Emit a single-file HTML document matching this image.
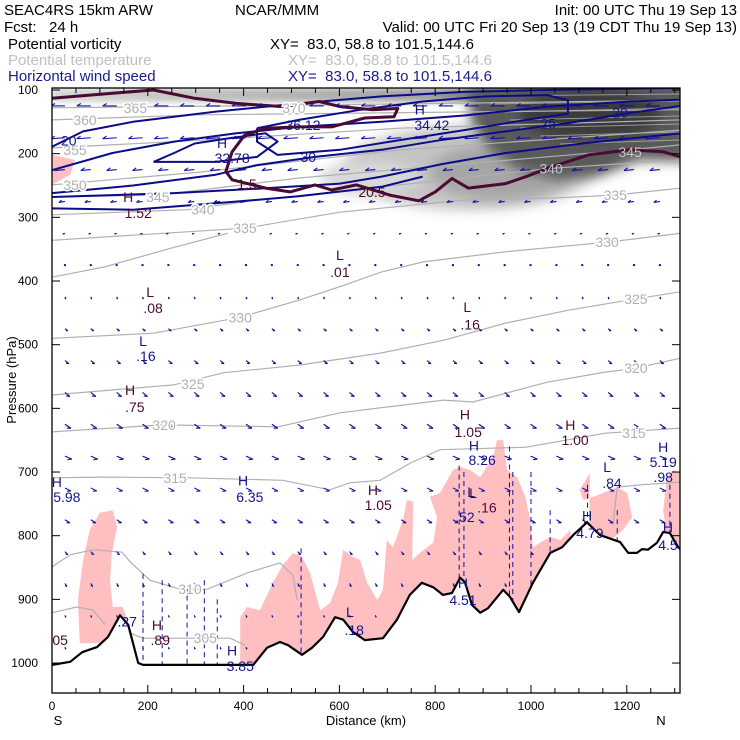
<!DOCTYPE html>
<html><head><meta charset="utf-8">
<style>
html,body{margin:0;padding:0;background:#fff;}
body{width:740px;height:740px;overflow:hidden;font-family:"Liberation Sans",sans-serif;}
svg{display:block;}
</style></head>
<body>
<svg id="chart" width="740" height="740" viewBox="0 0 740 740" xmlns="http://www.w3.org/2000/svg" font-family="Liberation Sans, sans-serif">
<defs>
<clipPath id="plotclip"><rect x="52" y="88" width="628" height="605"/></clipPath>
<filter id="blur6" x="-50%" y="-50%" width="200%" height="200%"><feGaussianBlur stdDeviation="6"/></filter>
<filter id="blur3" x="-50%" y="-50%" width="200%" height="200%"><feGaussianBlur stdDeviation="3"/></filter>
<linearGradient id="topband" x1="0" x2="1" y1="0" y2="0">
<stop offset="0" stop-color="#d8d8d8"/><stop offset="0.6" stop-color="#a0a0a0"/><stop offset="0.75" stop-color="#505050"/><stop offset="1" stop-color="#454545"/>
</linearGradient>
</defs>
<g font-size="15" fill="#000">
<text x="4" y="15">SEAC4RS 15km ARW</text>
<text x="235" y="15">NCAR/MMM</text>
<text x="737" y="15" text-anchor="end">Init: 00 UTC Thu 19 Sep 13</text>
<text x="4" y="32" xml:space="preserve">Fcst:   24 h</text>
<text x="737" y="32" text-anchor="end">Valid: 00 UTC Fri 20 Sep 13 (19 CDT Thu 19 Sep 13)</text>
<text x="8" y="49">Potential vorticity</text>
<text x="270" y="49" xml:space="preserve">XY=  83.0, 58.8 to 101.5,144.6</text>
<text x="8" y="65" fill="#c0c0c0">Potential temperature</text>
<text x="288" y="65" fill="#c0c0c0" xml:space="preserve">XY=  83.0, 58.8 to 101.5,144.6</text>
<text x="8" y="81" fill="#1a1a90">Horizontal wind speed</text>
<text x="288" y="81" fill="#1a1a90" xml:space="preserve">XY=  83.0, 58.8 to 101.5,144.6</text>
</g>
<g id="plot" clip-path="url(#plotclip)">
<g>
<rect x="52" y="88" width="628" height="14" fill="url(#topband)" filter="url(#blur3)"/>
<ellipse cx="470" cy="168" rx="125" ry="42" fill="#c4c4c4" filter="url(#blur6)"/>
<ellipse cx="500" cy="172" rx="70" ry="28" fill="#a6a6a6" filter="url(#blur6)"/>
<ellipse cx="370" cy="178" rx="50" ry="18" fill="#d8d8d8" filter="url(#blur6)"/>
<path d="M470 88 L690 88 L690 162 L640 160 L600 176 L560 180 L520 170 L490 150 L470 120 Z" fill="#5a5a5a" filter="url(#blur6)"/>
<ellipse cx="590" cy="115" rx="70" ry="25" fill="#3a3a3a" filter="url(#blur6)"/>
<g stroke="#d0d0d0" stroke-width="1" opacity="0.6">
<line x1="480" y1="96" x2="680" y2="94"/><line x1="490" y1="104" x2="680" y2="101"/><line x1="500" y1="112" x2="680" y2="108"/><line x1="510" y1="120" x2="680" y2="116"/><line x1="520" y1="128" x2="680" y2="124"/><line x1="540" y1="136" x2="680" y2="132"/><line x1="560" y1="144" x2="680" y2="140"/>
</g>
</g>
<g id="pink"></g>
<g id="theta"></g>
<g id="wind"></g>
<g id="pv"></g>
<g id="arrows"></g>
<g id="terrain"></g>
<g id="labels"></g>
</g>
<rect x="52" y="88" width="628" height="605" fill="none" stroke="#000" stroke-width="1.3"/>
<g id="axes" font-size="12" fill="#000"></g>
<text transform="translate(16,380) rotate(-90)" text-anchor="middle" font-size="13">Pressure (hPa)</text>
<text x="366" y="725" text-anchor="middle" font-size="13">Distance (km)</text>
<text x="58" y="725" text-anchor="middle" font-size="13">S</text>
<text x="661" y="725" text-anchor="middle" font-size="13">N</text>
</svg>
<script>
// ---- data ----
const yTicks = [100,200,300,400,500,600,700,800,900,1000];
const xTicks = [0,200,400,600,800,1000,1200];
const terrainKm = [0,38,63,94,117,142,159,180,190,420,449,476,493,522,543,566,591,608,628,653,691,720,747,772,796,816,835,852,862,877,894,910,942,956,975,1004,1040,1065,1088,1117,1144,1186,1203,1221,1232,1244,1263,1276,1290,1307,1313];
const terrainP = [1003,998,983,975,959,925,940,1000,1003,1003,976,967,972,987,976,959,928,932,951,964,961,932,893,874,881,893,890,866,873,909,921,914,885,896,920,874,827,818,799,779,799,810,827,827,821,822,811,794,796,818,822];
const pinkAreas = [
 [[58,969],[54,901],[65,838],[79,791],[100,764],[127,760],[136,786],[125,827],[121,870],[127,912],[148,912],[157,932],[142,964],[106,969]],
 [[0,202],[48,210],[38,233],[0,249]],
 [[393,1040],[393,928],[407,912],[434,917],[461,874],[482,846],[503,827],[522,833],[539,859],[560,917],[580,906],[597,874],[608,822],[628,833],[643,838],[658,874],[679,901],[691,885],[699,807],[712,818],[733,775],[741,744],[754,747],[752,838],[768,827],[796,811],[804,771],[789,739],[810,733],[837,697],[852,692],[873,697],[894,708],[921,676],[929,650],[942,650],[950,697],[971,708],[988,739],[998,771],[1004,818],[1019,811],[1040,802],[1061,807],[1082,791],[1090,1040]],
 [[1123,702],[1102,728],[1109,744],[1130,739],[1150,733],[1180,724],[1201,733],[1211,771],[1192,791],[1171,804],[1144,838],[1120,838]],
 [[1276,760],[1284,708],[1297,697],[1313,702],[1313,838],[1290,838]]
];
const thetaLines = [
 [[0,128],[518,124],[1313,116]],
 [[0,147],[309,139],[1313,131]],
 [[0,191],[309,179],[727,160],[1313,147]],
 [[0,249],[309,229],[727,194],[1313,163]],
 [[0,268],[221,265],[518,238],[831,218],[1207,194],[1313,186]],
 [[0,296],[282,288],[428,273],[727,249],[1042,223],[1313,210]],
 [[0,336],[169,328],[403,317],[601,292],[860,273],[1036,270],[1176,265],[1313,254]],
 [[0,394],[109,378],[255,347],[367,325]],
 [[0,490],[213,482],[393,457],[516,430],[601,409],[687,386],[775,370],[948,354],[1159,339],[1313,325]],
 [[0,579],[255,563],[359,544],[516,532],[687,513],[818,493],[948,466],[1077,446],[1219,428],[1313,417]],
 [[0,637],[230,626],[472,629],[601,607],[818,587],[879,590],[1034,559],[1155,543],[1219,537],[1313,521]],
 [[0,709],[106,708],[288,709],[482,713],[580,728],[622,717],[685,713],[748,686],[810,665],[990,661],[1155,639],[1313,631]],
 [[0,849],[38,830],[86,822],[146,826],[163,841],[205,870],[267,884],[324,884],[413,857],[476,843],[503,862],[512,901]],
 [[1171,783],[1180,724],[1228,720],[1313,716]],
 [[0,921],[52,912],[86,917],[111,940]],
 [[163,953],[190,961],[372,961],[403,972]]
];
const windLines = [
 [[0,189],[65,165],[169,150],[342,134],[515,121],[688,110],[861,103],[1034,100],[1207,98],[1313,97]],
 [[0,226],[126,199],[255,181],[385,168],[515,158],[688,150],[861,140],[1034,126],[1207,118],[1313,115]],
 [[0,262],[169,250],[342,233],[428,218],[549,205],[688,194],[817,178],[947,165],[1077,152],[1207,136],[1313,125]],
 [[0,268],[255,262],[428,255],[601,247],[688,236],[817,216],[947,199],[1120,183],[1313,168]],
 [[0,286],[169,288],[342,278],[515,267],[688,252],[774,236]],
 [[212,213],[255,199],[298,184],[368,176],[446,168],[471,181],[428,205],[342,213],[212,213]],
 [[428,160],[515,147],[645,131],[774,118],[904,110],[1034,108],[1077,116],[1077,137],[990,147],[861,163],[731,178],[601,194],[471,202],[428,181],[428,160]]
];
const pvLine = [[0,113],[126,105],[212,100],[298,113],[385,121],[480,126],[558,118],[601,126],[670,131],[722,129],[714,142],[653,144],[584,158],[515,158],[446,160],[402,171],[376,197],[363,228],[376,241],[446,254],[497,260],[549,249],[584,257],[636,249],[705,265],[766,274],[800,260],[835,239],[869,254],[947,247],[990,236],[1034,223],[1120,202],[1207,194],[1276,197],[1313,205]];
const windRowP = [125,175,225,275,325,375,425,475,525,575,625,675,725,775,825,875,925,975];
const windRowU = [-14,-14,-10,-6,-2,-1,1,3,4,5,6,7,6,5,3,2,1,1];
const windRowW = [0,1,1,1,1,1,2,2,3,4,4,3,3,3,3,3,2,2];
const windColKm = [27,81,135,189,243,297,351,405,459,513,567,621,675,729,783,837,891,945,999,1053,1107,1161,1215,1269];
const vertLineKm = [190,230,282,318,345,520,850,860,955,962,1000,1040,1118,1180,1290];
const vertLineTop = [860,870,880,870,900,820,690,700,660,700,700,760,720,760,720];
const thetaLabels = [[174,128,"365"],[69,147,"360"],[505,128,"370"],[48,194,"355"],[48,249,"350"],[221,268,"345"],[315,288,"340"],[403,317,"335"],[1176,265,"335"],[393,457,"330"],[1159,339,"330"],[294,562,"325"],[1219,428,"325"],[234,626,"320"],[1219,537,"320"],[257,709,"315"],[1215,639,"315"],[288,884,"310"],[320,961,"305"]];
const thetaLabelsShaded = [[1207,197,"345"],[1042,223,"340"]];
const pvLabels = [[601,359,"L"],[601,386,".01"],[205,417,"L"],[211,442,".08"],[163,571,"H"],[173,598,".75"],[867,441,"L"],[873,468,".16"],[862,610,"H"],[869,637,"1.05"],[1082,626,"H"],[1092,650,"1.00"],[670,728,"H"],[681,752,"1.05"],[879,733,"L"],[908,756,".16"],[219,940,"H"],[226,964,".89"],[17,964,"05"],[407,248,"1.5"],[159,268,"H"],[180,293,"1.52"],[668,260,"20.5"]];
const windLabels = [[524,155,"36.12"],[355,183,"H"],[376,207,"32.78"],[768,131,"H"],[793,155,"34.42"],[535,205,"30"],[1036,153,"25"],[1186,135,"20"],[35,179,"20"],[190,494,"L"],[196,518,".16"],[10,716,"H"],[31,739,"5.98"],[399,713,"H"],[413,739,"6.35"],[881,658,"H"],[898,681,"8.26"],[1159,692,"L"],[1169,717,".84"],[1276,661,"H"],[1276,684,"5.19"],[1276,708,".98"],[858,874,"H"],[858,901,"4.51"],[1117,768,"H"],[1123,796,"4.79"],[1286,786,"H"],[1286,815,"4.5"],[622,920,"L"],[631,948,".18"],[376,980,"H"],[393,1005,"3.85"],[157,935,".27"],[875,731,"L"],[862,771,".52"]];

// ---- scales ----
const X = km => 52 + km * 0.479;
const Y = p => 90 + (p - 100) * 0.6367;
const NS = "http://www.w3.org/2000/svg";
function mk(tag, attrs, parent){const e=document.createElementNS(NS,tag);for(const k in attrs)e.setAttribute(k,attrs[k]);parent.appendChild(e);return e;}
const pts = arr => arr.map(d => X(d[0]).toFixed(1)+","+Y(d[1]).toFixed(1)).join(" ");
function terrainAt(km){for(let i=1;i<terrainKm.length;i++){if(km<=terrainKm[i]){const t=(km-terrainKm[i-1])/(terrainKm[i]-terrainKm[i-1]);return terrainP[i-1]+t*(terrainP[i]-terrainP[i-1]);}}return terrainP[terrainP.length-1];}

const gPink=document.getElementById('pink');
pinkAreas.forEach(a=>{const e=mk('polygon',{points:pts(a),fill:'#ffbfc0'},gPink);

});

const gTheta=document.getElementById('theta');
thetaLines.forEach(a=>{const e=mk('polyline',{points:pts(a),fill:'none',stroke:'#b0b0b0','stroke-width':1.2},gTheta);

});

const gWind=document.getElementById('wind');
windLines.forEach(a=>{const e=mk('polyline',{points:pts(a),fill:'none',stroke:'#0c0c88','stroke-width':2,'stroke-linejoin':'round'},gWind);

});

const gPv=document.getElementById('pv');
const pvE=mk('polyline',{points:pts(pvLine),fill:'none',stroke:'#4a0a32','stroke-width':3,'stroke-linejoin':'round'},gPv);



const gArr=document.getElementById('arrows');
windRowP.forEach((p,ri)=>{windColKm.forEach(km=>{
 if(p>terrainAt(km)-8)return;
 const x=X(km),y=Y(p),dx=windRowU[ri],dy=windRowW[ri];
 const len=Math.hypot(dx,dy);
 const g=mk('g',{},gArr);
 
 
 if(len<1.5){mk('rect',{x:x-1,y:y-1,width:2,height:2,fill:'#1010a0'},g);return;}
 mk('line',{x1:x,y1:y,x2:x+dx,y2:y+dy,stroke:'#1010a0','stroke-width':1.1},g);
 const ux=dx/len,uy=dy/len,hx=x+dx,hy=y+dy,h=Math.min(4,len*0.5);
 mk('line',{x1:hx,y1:hy,x2:hx-ux*h-uy*h*0.6,y2:hy-uy*h+ux*h*0.6,stroke:'#1010a0','stroke-width':1.1},g);
});});
vertLineKm.forEach((km,i)=>{const e=mk('line',{x1:X(km),y1:Y(vertLineTop[i]),x2:X(km),y2:Y(terrainAt(km)),stroke:'#1010a0','stroke-width':1,'stroke-dasharray':'5 4'},gArr);

});

const gTer=document.getElementById('terrain');
const tpts=terrainKm.map((k,i)=>[k,terrainP[i]]);
const fillPts=pts(tpts)+" "+X(1313)+","+Y(1060)+" "+X(0)+","+Y(1060);
const tf=mk('polygon',{points:fillPts,fill:'#fff'},gTer);


const tl=mk('polyline',{points:pts(tpts),fill:'none',stroke:'#000','stroke-width':2.2,'stroke-linejoin':'round'},gTer);



const gLab=document.getElementById('labels');
function lab(d,color,halo,name){const e=mk('text',{x:X(d[0]),y:Y(d[1])+5,'text-anchor':'middle','font-size':14,fill:color},gLab);
 if(halo){e.setAttribute('stroke','#fff');e.setAttribute('stroke-width','3');e.setAttribute('paint-order','stroke');}
 e.textContent=d[2];
 
 }
thetaLabels.forEach(d=>lab(d,'#b0b0b0',true,'theta-label'));
thetaLabelsShaded.forEach(d=>lab(d,'#c8c8c8',false,'theta-label'));
pvLabels.forEach(d=>lab(d,'#4a0a32',false,'pv-label'));
windLabels.forEach(d=>lab(d,'#14148c',false,'wind-label'));

const gAx=document.getElementById('axes');
yTicks.forEach(p=>{const y=Y(p);
 mk('line',{x1:52,y1:y,x2:60,y2:y,stroke:'#000'},gAx);
 mk('line',{x1:672,y1:y,x2:680,y2:y,stroke:'#000'},gAx);
 const t=mk('text',{x:38,y:y+4,'text-anchor':'end'},gAx);t.textContent=p;
 
 });
for(let km=0;km<=1300;km+=50){const x=X(km),L=(km%200===0)?8:5;
 mk('line',{x1:x,y1:693,x2:x,y2:693-L,stroke:'#000'},gAx);
 mk('line',{x1:x,y1:88,x2:x,y2:88+L,stroke:'#000'},gAx);}
xTicks.forEach(km=>{const t=mk('text',{x:X(km),y:710,'text-anchor':'middle'},gAx);t.textContent=km;
 
 });
</script>
</body></html>
